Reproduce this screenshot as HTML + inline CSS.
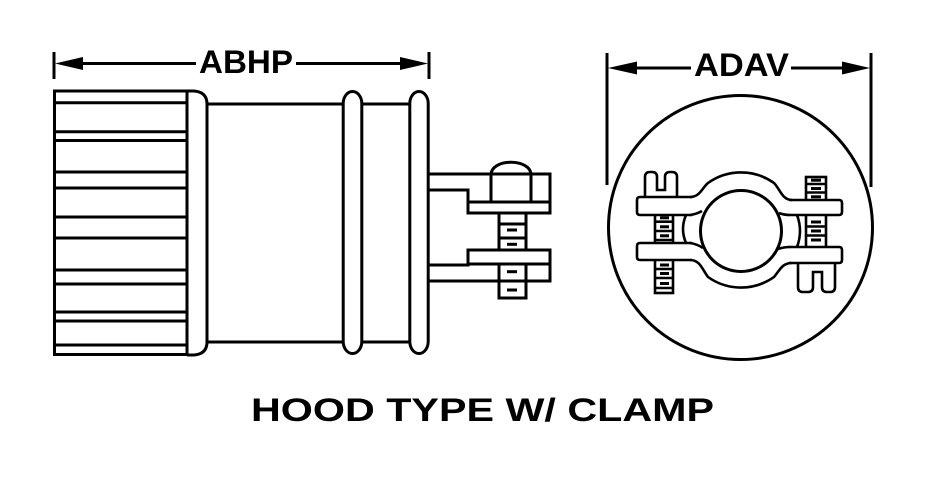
<!DOCTYPE html>
<html>
<head>
<meta charset="utf-8">
<style>
html,body{margin:0;padding:0;background:#fff;}
svg{display:block;}
text{font-family:"Liberation Sans",Arial,sans-serif;font-weight:bold;fill:#000;}
</style>
</head>
<body>
<svg width="930" height="480" viewBox="0 0 930 480" xmlns="http://www.w3.org/2000/svg">
<g fill="none" stroke="#000" stroke-width="3">
  <!-- ABHP dimension -->
  <line x1="54" y1="52" x2="54" y2="79"/>
  <line x1="429" y1="52" x2="429" y2="79"/>
  <line x1="70" y1="63.5" x2="196" y2="63.5"/>
  <line x1="296" y1="63.5" x2="415" y2="63.5"/>
  <!-- ADAV dimension -->
  <line x1="607" y1="53" x2="607" y2="185"/>
  <line x1="871" y1="53" x2="871" y2="187"/>
  <line x1="625" y1="68" x2="691" y2="68"/>
  <line x1="791" y1="68" x2="855" y2="68"/>

  <!-- Knob -->
  <rect x="54.5" y="91" width="132.5" height="263.5"/>
  <g stroke-width="3">
    <line x1="54" y1="102.7" x2="187" y2="102.7"/>
    <line x1="54" y1="131.7" x2="187" y2="131.7"/>
    <line x1="54" y1="140.5" x2="187" y2="140.5"/>
    <line x1="54" y1="172" x2="187" y2="172"/>
    <line x1="54" y1="188" x2="187" y2="188"/>
    <line x1="54" y1="217" x2="187" y2="217"/>
    <line x1="54" y1="238" x2="187" y2="238"/>
    <line x1="54" y1="270" x2="187" y2="270"/>
    <line x1="54" y1="284" x2="187" y2="284"/>
    <line x1="54" y1="312" x2="187" y2="312"/>
    <line x1="54" y1="321" x2="187" y2="321"/>
    <line x1="54" y1="345" x2="187" y2="345"/>
  </g>
  <!-- Cap -->
  <path d="M187,91 H194 Q207,92 207,104 V342 Q207,354 194,355 H187"/>
  <!-- Body -->
  <line x1="207" y1="104" x2="343" y2="104"/>
  <line x1="207" y1="342" x2="343" y2="342"/>
  <rect x="343.2" y="91.5" width="18.6" height="262" rx="9.3" ry="12"/>
  <line x1="362" y1="104" x2="410" y2="104"/>
  <line x1="362" y1="342" x2="410" y2="342"/>
  <rect x="409.8" y="91.5" width="18.4" height="262" rx="9.2" ry="12"/>

  <!-- Prongs -->
  <path d="M428,174 H550 V213 H468 V190 H428"/>
  <line x1="468" y1="202" x2="550" y2="202"/>
  <path d="M491,202 V175 C491,158 531,158 531,175 V202"/>
  <path d="M499,213 V250 M526,213 V250"/>
  <line x1="499" y1="224" x2="526" y2="224"/>
  <line x1="499" y1="238" x2="526" y2="238"/>
  <path d="M428,265 H468 V250 H550 V281 H428"/>
  <line x1="468" y1="264" x2="550" y2="264"/>
  <path d="M499,264 V298 H526 V264"/>

  <!-- End view circle -->
  <circle cx="740.5" cy="227.5" r="132"/>
</g>

<!-- arrowheads -->
<g fill="#000" stroke="none">
  <polygon points="55,63.5 83,57 83,70"/>
  <polygon points="428,63.5 400,57 400,70"/>
  <polygon points="608,68 637,61.5 637,74.5"/>
  <polygon points="870,68 842,61.5 842,74.5"/>
  <rect x="507" y="228.5" width="10" height="3"/>
  <rect x="507" y="242.8" width="10" height="3"/>
  <rect x="507" y="270.2" width="10" height="3"/>
  <rect x="507" y="288.5" width="10" height="3"/>
</g>

<!-- Clamp -->
<g fill="none" stroke="#000" stroke-width="2.6">
  <rect x="655" y="212" width="18" height="33"/>
  <line x1="655" y1="221.7" x2="673" y2="221.7"/>
  <line x1="655" y1="231" x2="673" y2="231"/>
  <line x1="655" y1="240" x2="673" y2="240"/>
  <rect x="655" y="258" width="18" height="35"/>
  <line x1="655" y1="269" x2="673" y2="269"/>
  <line x1="655" y1="278" x2="673" y2="278"/>
  <line x1="655" y1="288" x2="673" y2="288"/>
  <rect x="806" y="177" width="20" height="25"/>
  <line x1="806" y1="184" x2="826" y2="184"/>
  <line x1="806" y1="192.5" x2="826" y2="192.5"/>
  <rect x="806" y="213" width="20" height="36"/>
  <line x1="806" y1="226.5" x2="826" y2="226.5"/>
  <line x1="806" y1="235.5" x2="826" y2="235.5"/>

  <path fill="#fff" d="M645,198 V177 Q645,172 650,172 H652 Q657,172 657,177 V190 H665 V177 Q665,172 670,172 H672 Q677,172 677,177 V198"/>
  <path fill="#fff" d="M798,262 V287 Q798,292 803,292 H808 Q813,292 813,287 V272 H822 V287 Q822,292 827,292 H830 Q835,292 835,287 V262"/>

  <path fill="#fff" d="M692,197 H640 Q637,197 637,200 V212 Q637,215 640,215 H692"/>
  <path fill="#fff" d="M692,243 H640 Q637,243 637,246 V257 Q637,260 640,260 H692"/>
  <path fill="#fff" d="M789,200 H839 Q842,200 842,203 V212 Q842,215 839,215 H789"/>
  <path fill="#fff" d="M789,247 H839 Q842,247 842,250 V260 Q842,263 839,263 H789"/>

  <path d="M690,197 C700,197 702,188 708,183 A57,57 0 0 1 774,183 C780,189 782,200 792,200"/>
  <path d="M690,260 C700,260 702,269 708,277 A57,57 0 0 0 774,277 C780,270 782,263 792,263"/>
  <path d="M690,215 Q697,214 702,211"/>
  <path d="M690,243 Q697,244 703,248"/>
  <path d="M790,215 Q784,215 779,213"/>
  <path d="M790,247 Q784,247 778,249"/>
  <path d="M686,215 Q680,229 686,243"/>
  <path d="M797,215 Q803,231 797,247"/>

  <circle cx="741" cy="231" r="40.5" stroke-width="3"/>
</g>
<g fill="#000">
  <rect x="660" y="216.3" width="9" height="3"/>
  <rect x="660" y="225.3" width="9" height="3"/>
  <rect x="660" y="234.3" width="9" height="3"/>
  <rect x="660" y="263.5" width="9" height="3"/>
  <rect x="660" y="272" width="9" height="3"/>
  <rect x="660" y="282" width="9" height="3"/>
  <rect x="811" y="178.7" width="10" height="3"/>
  <rect x="811" y="187" width="10" height="3"/>
  <rect x="811" y="195.3" width="10" height="3"/>
  <rect x="811" y="220.5" width="10" height="3"/>
  <rect x="811" y="229.5" width="10" height="3"/>
  <rect x="811" y="238.5" width="10" height="3"/>
</g>

<!-- Labels -->
<text x="199" y="73" font-size="32" textLength="94" lengthAdjust="spacingAndGlyphs">ABHP</text>
<text x="694" y="76" font-size="32" textLength="95" lengthAdjust="spacingAndGlyphs">ADAV</text>
<text x="251" y="421" font-size="32" textLength="463" lengthAdjust="spacingAndGlyphs">HOOD TYPE W/ CLAMP</text>
</svg>
</body>
</html>
